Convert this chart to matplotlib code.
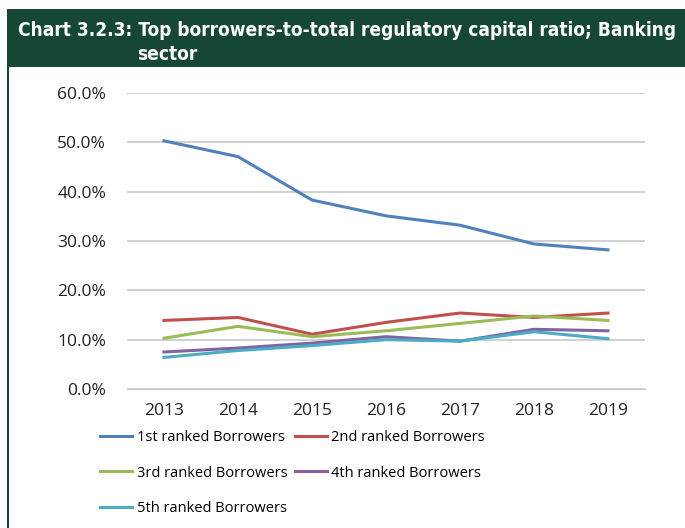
import matplotlib
matplotlib.use('Agg')
import matplotlib.pyplot as plt
from matplotlib.lines import Line2D
from matplotlib.patches import Rectangle
from matplotlib.ticker import PercentFormatter

years = ['2013', '2014', '2015', '2016', '2017', '2018', '2019']
first = [50.3, 47.1, 38.3, 35.1, 33.2, 29.4, 28.2]
second = [13.9, 14.5, 11.1, 13.5, 15.4, 14.5, 15.4]
third = [10.3, 12.7, 10.6, 11.8, 13.3, 14.8, 13.9]
fourth = [7.5, 8.3, 9.3, 10.6, 9.7, 12.1, 11.8]
fifth = [6.4, 7.8, 8.8, 10.0, 9.7, 11.6, 10.2]
labels = ['1st ranked Borrowers', '2nd ranked Borrowers', '3rd ranked Borrowers',
          '4th ranked Borrowers', '5th ranked Borrowers']
colors = ['#4F81BD', '#C0504D', '#9BBB59', '#8064A2', '#4BACC6']
title1 = 'Chart 3.2.3: Top borrowers-to-total regulatory capital ratio; Banking'
title2 = 'sector'

W, H = 685, 528
fig = plt.figure(figsize=(W/100, H/100), dpi=100)
green = '#154734'
plt.rcParams['font.family'] = ['Open Sans', 'DejaVu Sans']

# title band + left border
fig.patches.append(Rectangle((7/W, 1-67/H), 1-7/W, 58/H, transform=fig.transFigure,
                             facecolor=green, edgecolor='none'))
fig.add_artist(Line2D([8/W, 8/W], [0, 1-67/H], transform=fig.transFigure, color=green, lw=1.5))
tfont = dict(family='DejaVu Sans', stretch='condensed', weight='bold', color='white')
t1 = fig.text(18/W, 1-36/H, title1, ha='left', va='baseline', size=15, **tfont)
t2 = fig.text(137/W, 1-60/H, title2, ha='left', va='baseline', size=15, **tfont)
# shrink title so it fits the band width
r = fig.canvas.get_renderer()
wt = t1.get_window_extent(r).width
fs = 15 * min(1.0, 660 / wt)
t1.set_fontsize(fs)
t2.set_fontsize(fs)

ax = fig.add_axes([127/W, 1-389/H, 518/W, 296/H])
x = range(len(years))
for s, c, l in zip([first, second, third, fourth, fifth], colors, labels):
    ax.plot(x, s, color=c, lw=2.2, label=l)

ax.set_xlim(-0.5, 6.5)
ax.set_ylim(0, 60)
ax.set_yticks(range(0, 61, 10))
ax.yaxis.set_major_formatter(PercentFormatter(decimals=1))
ax.set_xticks(list(x))
ax.set_xticklabels(years)
ax.grid(axis='y', color='#c8c8c8', lw=1.2)
ax.set_axisbelow(True)
for sp in ['top', 'right', 'left']:
    ax.spines[sp].set_visible(False)
ax.spines['bottom'].set_color('#c8c8c8')
ax.tick_params(length=0, labelsize=12.5, colors='#222222', pad=10)
ax.tick_params(axis='y', pad=15)

h, l = ax.get_legend_handles_labels()
order = [0, 2, 4, 1, 3]
fig.legend([h[i] for i in order], [l[i] for i in order], ncol=2, frameon=False,
           loc='upper left', bbox_to_anchor=(87/W, 1-417/H), fontsize=10.5,
           handlelength=2.2, handletextpad=0.3, columnspacing=0.5, labelspacing=1.4)

fig.savefig('out.png', dpi=100)
